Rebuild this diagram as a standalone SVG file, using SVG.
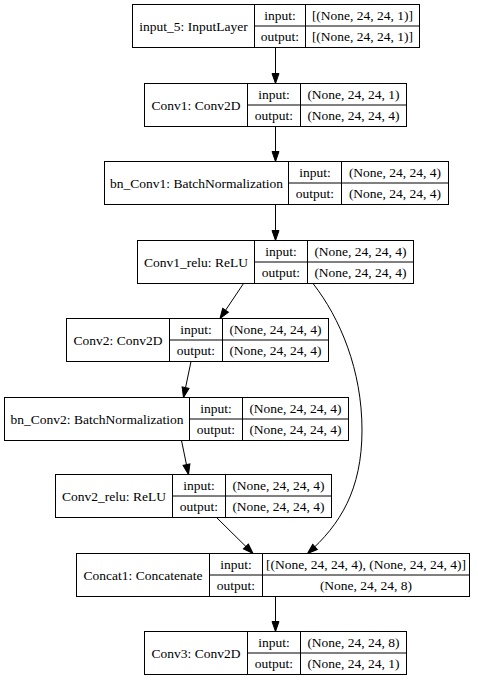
<svg xmlns="http://www.w3.org/2000/svg" width="478" height="680" viewBox="0 0 478 680">
<defs>
<style>
.n rect,.c{fill:none;stroke:#000;stroke-width:1}
.n rect{fill:#fff}
text{font-family:"Liberation Serif","Times New Roman","DejaVu Serif",serif;font-size:13.5px;fill:#000;text-anchor:middle}
.e{fill:none;stroke:#000;stroke-width:1;marker-end:url(#ah)}
</style>
<marker id="ah" markerUnits="userSpaceOnUse" markerWidth="10" markerHeight="7" refX="10" refY="3.5" orient="auto" overflow="visible">
<path d="M0,0 L10,3.5 L0,7 z" fill="#000" stroke="#000" stroke-width="1"/>
</marker>
</defs>
<rect x="0" y="0" width="478" height="680" fill="#fff"/>
<g id="connectors">
<path class="e" d="M275.5,47.5 L275.5,83.5"/>
<path class="e" d="M275.5,126.5 L275.5,161.5"/>
<path class="e" d="M275.5,204.5 L275.5,240.5"/>
<path class="e" d="M243.5,283.5 L220,318.5"/>
<path class="e" d="M313,283.5 C340,318 362,370 362,430 C362,490 340,525 307.5,553.5"/>
<path class="e" d="M191,361.5 L183.5,397.5"/>
<path class="e" d="M181.5,440.5 L188.5,474.5"/>
<path class="e" d="M216.5,517.5 L253,553.5"/>
<path class="e" d="M275.5,596.5 L275.5,631.5"/>
</g>
<g id="input_5" class="n">
<rect x="132.5" y="4.5" width="287" height="43"/>
<path class="c" d="M254.5,4.5V47.5M305.5,4.5V47.5M254.5,26H419.5"/>
<text x="193.5" y="30.5">input_5: InputLayer</text>
<text x="280" y="19.5">input:</text>
<text x="280" y="41">output:</text>
<text x="362.5" y="19.5">[(None, 24, 24, 1)]</text>
<text x="362.5" y="41">[(None, 24, 24, 1)]</text>
</g>
<g id="Conv1" class="n">
<rect x="144.5" y="83.5" width="262" height="43"/>
<path class="c" d="M247.5,83.5V126.5M300.5,83.5V126.5M247.5,105H406.5"/>
<text x="196" y="109.5">Conv1: Conv2D</text>
<text x="274" y="98.5">input:</text>
<text x="274" y="120">output:</text>
<text x="353.5" y="98.5">(None, 24, 24, 1)</text>
<text x="353.5" y="120">(None, 24, 24, 4)</text>
</g>
<g id="bn_Conv1" class="n">
<rect x="104.5" y="161.5" width="344" height="43"/>
<path class="c" d="M288.5,161.5V204.5M341.5,161.5V204.5M288.5,183H448.5"/>
<text x="196.5" y="187.5">bn_Conv1: BatchNormalization</text>
<text x="315" y="176.5">input:</text>
<text x="315" y="198">output:</text>
<text x="395" y="176.5">(None, 24, 24, 4)</text>
<text x="395" y="198">(None, 24, 24, 4)</text>
</g>
<g id="Conv1_relu" class="n">
<rect x="137.5" y="240.5" width="276" height="43"/>
<path class="c" d="M254.5,240.5V283.5M307.5,240.5V283.5M254.5,262H413.5"/>
<text x="196" y="266.5">Conv1_relu: ReLU</text>
<text x="281" y="255.5">input:</text>
<text x="281" y="277">output:</text>
<text x="360.5" y="255.5">(None, 24, 24, 4)</text>
<text x="360.5" y="277">(None, 24, 24, 4)</text>
</g>
<g id="Conv2" class="n">
<rect x="66.5" y="318.5" width="262" height="43"/>
<path class="c" d="M169.5,318.5V361.5M222.5,318.5V361.5M169.5,340H328.5"/>
<text x="118" y="344.5">Conv2: Conv2D</text>
<text x="196" y="333.5">input:</text>
<text x="196" y="355">output:</text>
<text x="275.5" y="333.5">(None, 24, 24, 4)</text>
<text x="275.5" y="355">(None, 24, 24, 4)</text>
</g>
<g id="bn_Conv2" class="n">
<rect x="4.5" y="397.5" width="344" height="43"/>
<path class="c" d="M189.5,397.5V440.5M242.5,397.5V440.5M189.5,419H348.5"/>
<text x="97" y="423.5">bn_Conv2: BatchNormalization</text>
<text x="216" y="412.5">input:</text>
<text x="216" y="434">output:</text>
<text x="295.5" y="412.5">(None, 24, 24, 4)</text>
<text x="295.5" y="434">(None, 24, 24, 4)</text>
</g>
<g id="Conv2_relu" class="n">
<rect x="55.5" y="474.5" width="276" height="43"/>
<path class="c" d="M172.5,474.5V517.5M225.5,474.5V517.5M172.5,496H331.5"/>
<text x="114" y="500.5">Conv2_relu: ReLU</text>
<text x="199" y="489.5">input:</text>
<text x="199" y="511">output:</text>
<text x="278.5" y="489.5">(None, 24, 24, 4)</text>
<text x="278.5" y="511">(None, 24, 24, 4)</text>
</g>
<g id="Concat1" class="n">
<rect x="76.5" y="553.5" width="393" height="43"/>
<path class="c" d="M209.5,553.5V596.5M262.5,553.5V596.5M209.5,575H469.5"/>
<text x="143" y="579.5">Concat1: Concatenate</text>
<text x="236" y="568.5">input:</text>
<text x="236" y="590">output:</text>
<text x="366" y="568.5">[(None, 24, 24, 4), (None, 24, 24, 4)]</text>
<text x="366" y="590">(None, 24, 24, 8)</text>
</g>
<g id="Conv3" class="n">
<rect x="144.5" y="631.5" width="262" height="43"/>
<path class="c" d="M247.5,631.5V674.5M300.5,631.5V674.5M247.5,653H406.5"/>
<text x="196" y="657.5">Conv3: Conv2D</text>
<text x="274" y="646.5">input:</text>
<text x="274" y="668">output:</text>
<text x="353.5" y="646.5">(None, 24, 24, 8)</text>
<text x="353.5" y="668">(None, 24, 24, 1)</text>
</g>
</svg>
